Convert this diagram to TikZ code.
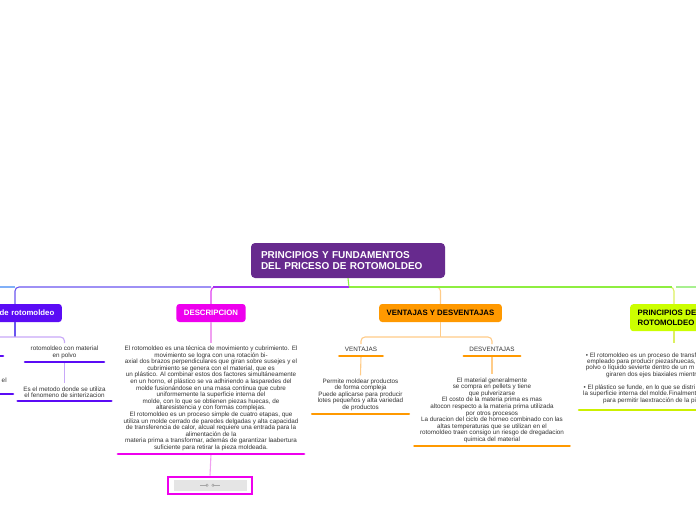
\documentclass[tikz,border=0pt]{standalone}
\usepackage{fontspec}
\setmainfont{Liberation Sans}
\definecolor{croot}{HTML}{672A8E}
\definecolor{cviolet}{HTML}{5B0CF5}
\definecolor{cbv}{HTML}{6A55F0}
\definecolor{cpurple}{HTML}{A030F0}
\definecolor{clightblue}{HTML}{80B0F8}
\definecolor{clilac}{HTML}{C8A8F8}
\definecolor{cmag}{HTML}{EE00EE}
\definecolor{cmagl}{HTML}{F0A0F0}
\definecolor{cmagb}{HTML}{E040F0}
\definecolor{corange}{HTML}{FF9900}
\definecolor{corl}{HTML}{FFCC88}
\definecolor{clime}{HTML}{CCFF00}
\definecolor{climel}{HTML}{DDF060}
\definecolor{climeul}{HTML}{CCF000}
\definecolor{cgreen}{HTML}{8EEE40}
\definecolor{cgreenl}{HTML}{A8F090}
\definecolor{ctext}{HTML}{333333}
\tikzset{
  titlebox/.style={rounded corners=3, minimum height=18, inner xsep=7.5, inner ysep=0, font=\fontsize{7.8}{10}\selectfont\bfseries},
  txt/.style={align=center, font=\fontsize{6.3}{6.6}\selectfont, inner xsep=5.5, inner ysep=3, text=ctext},
  ptxt/.style={font=\fontsize{6.3}{6.6}\selectfont, inner sep=0, text=ctext},
  link/.style={line width=1.1, rounded corners=4},
  ul/.style={line width=2.6, line cap=round},
}
\begin{document}
\begin{tikzpicture}[x=1pt,y=-1pt]
\useasboundingbox (0,0) rectangle (696,520);
\clip (0,0) rectangle (696,520);
\fill[white] (0,0) rectangle (696,520);

% root
\node[fill=croot, rounded corners=4, text=white, font=\fontsize{10}{11}\selectfont\bfseries, text width=174, align=left, inner xsep=10, inner ysep=0, minimum height=35] (root) at (348,260.5) {PRINCIPIOS Y FUNDAMENTOS\\DEL PRICESO DE ROTOMOLDEO};

% main titles
\node[titlebox, fill=cviolet, text=white, anchor=east, text width=80, align=right] (lt) at (62,313) {de rotomoldeo};
\node[titlebox, fill=cmag, text=white] (dt) at (211,313) {DESCRIPCION};
\node[titlebox, fill=corange, text=black] (vt) at (440.5,313) {VENTAJAS Y DESVENTAJAS};
\node[titlebox, fill=clime, text=black, anchor=north west, text width=100, align=left, minimum height=27] (pt) at (630,304) {PRINCIPIOS DE\\ROTOMOLDEO};

% bus
\coordinate (bus) at (349,287);
\draw[link, cgreen] (root.south) -- (bus);
\draw[link, cmagb] (bus) -| (dt.north);
\draw[link, cbv] (211,287) -| (15,0 |- lt.north);
\draw[link, corl] (bus) -| (vt.north);
\draw[link, climel] (bus) -| (674,0 |- pt.north);
\draw[line width=1.1, cpurple] (bus) -- (213,287);
\draw[line width=1.1, clightblue] (15,287) -- (-5,287);
\draw[line width=1.1, cgreen] (bus) -- (672,287);
\draw[line width=1.1, cgreenl] (676,287) -- (705,287);

% left subtree
\coordinate (lj) at (15,337);
\node[txt, anchor=south] (rm) at (64.5,362) {rotomoldeo con material\\en polvo};
\node[txt, anchor=south] (es) at (64.5,401) {Es el metodo donde se utiliza\\el fenomeno de sinterizacion};
\draw[link, cbv] (15,0 |- lt.south) -- (lj);
\draw[link, clilac] (-10,337) -| (rm.north);
\draw[link, clilac] (rm.south) -- (es.north);
\draw[ul, cviolet] (rm.south west) -- (rm.south east);
\draw[ul, cviolet] (es.south west) -- (es.south east);
\node[ptxt, anchor=base] (lx) at (4.2,382.5) {el};
\draw[ul, cviolet] (-10,356) -- (3,356);
\draw[ul, cviolet] (-10,394) -- (13,394);

% description
\node[txt, anchor=south] (dd) at (211,454) {El rotomoldeo es una técnica de movimiento y cubrimiento. El\\movimiento se logra con una rotación bi-\\axial dos brazos perpendiculares que giran sobre susejes y el\\cubrimiento se genera con el material, que es\\un plástico. Al combinar estos dos factores simultáneamente\\en un horno, el plástico se va adhiriendo a lasparedes del\\molde fusionándose en una masa continua que cubre\\uniformemente la superficie interna del\\molde, con lo que se obtienen piezas huecas, de\\altaresistencia y con formas complejas.\\El rotomoldeo es un proceso simple de cuatro etapas, que\\utiliza un molde cerrado de paredes delgadas y alta capacidad\\de transferencia de calor, alcual requiere una entrada para la\\alimentación de la\\materia prima a transformar, además de garantizar laabertura\\suficiente para retirar la pieza moldeada.};
\draw[link, cmagl] (dt.south) -- (dd.north);
\node[draw=cmag, line width=2.5, minimum width=84, minimum height=17, fill=white, inner sep=0, anchor=north] (img) at (210,475.5) {};
\draw[link, cmagl] (dd.south) -- (img.north);
\draw[ul, cmag] (dd.south west) -- (dd.south east);
\node[fill=black!10, minimum width=73, minimum height=11, inner sep=0] (imgin) at (img.center) {};
\draw[black!35, line width=0.5] ([xshift=-10]imgin.center) -- ([xshift=-3]imgin.center) ([xshift=3]imgin.center) -- ([xshift=10]imgin.center);
\draw[black!35, line width=0.5] ([xshift=-3]imgin.center) circle[radius=1.2] ([xshift=3]imgin.center) circle[radius=1.2];

% ventajas y desventajas
\coordinate (vj) at (440.5,337);
\node[txt, anchor=south, text depth=1.2] (ve) at (361,356) {VENTAJAS};
\node[txt, anchor=south, text depth=1.2] (de) at (492,356) {DESVENTAJAS};
\node[txt, anchor=south] (vx) at (360.5,414) {Permite moldear productos\\de forma compleja\\Puede aplicarse para producir\\lotes pequeños y alta variedad\\de productos};
\node[txt, anchor=south] (dx) at (492,446) {El material generalmente\\se compra en pellets y tiene\\que pulverizarse\\El costo de la materia prima es mas\\altocon respecto a la materia prima utilizada\\por otros procesos\\La duracion del ciclo de horneo combinado con las\\altas temperaturas que se utilizan en el\\rotomoldeo traen consigo un riesgo de dregadacion\\quimica del material};
\draw[link, corl] (vt.south) -- (vj);
\draw[link, corl] (vj) -| (ve.north);
\draw[link, corl] (vj) -| (de.north);
\draw[link, corl] (ve.south) -- (vx.north);
\draw[link, corl] (de.south) -- (dx.north);
\draw[ul, corange] (ve.south west) -- (ve.south east);
\draw[ul, corange] (de.south west) -- (de.south east);
\draw[ul, corange] (vx.south west) -- (vx.south east);
\draw[ul, corange] (dx.south west) -- (dx.south east);

% principios
\coordinate (pend) at (674,343);
\draw[link, climel] (674,0 |- pt.south) -- (pend);
\node[ptxt, anchor=base west] (p1) at (585.7,357.2) {• El rotomoldeo es un proceso de transf};
\node[ptxt, anchor=base west] (p2) at (587,363.7) {empleado para producir piezashuecas, ·};
\node[ptxt, anchor=base west] (p3) at (585.7,369.8) {polvo o líquido sevierte dentro de un m};
\node[ptxt, anchor=base west] (p4) at (606,376.4) {giraren dos ejes biaxiales mientr};
\node[ptxt, anchor=base west] (p5) at (583.5,389.7) {• El plástico se funde, en lo que se distri};
\node[ptxt, anchor=base west] (p6) at (583,395.8) {la superficie interna del molde.Finalment};
\node[ptxt, anchor=base west] (p7) at (603,402.2) {para permitir laextracción de la pi};
\draw[ul, climeul] (579,410) -- (705,410);
\end{tikzpicture}
\end{document}
